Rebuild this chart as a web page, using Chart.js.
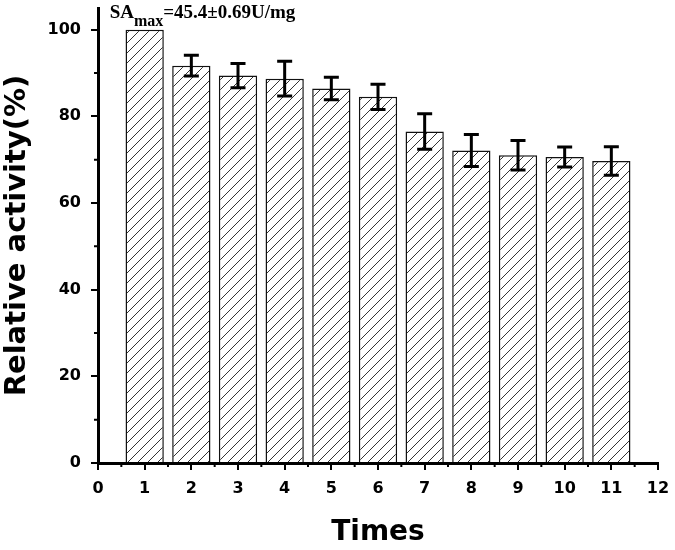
<!DOCTYPE html>
<html>
<head>
<meta charset="utf-8">
<script src="https://cdn.jsdelivr.net/npm/chart.js@4.4.1/dist/chart.umd.min.js"></script>
<style>
  html, body { margin: 0; padding: 0; background: #fff; }
  #wrap { width: 675px; height: 550px; }
</style>
</head>
<body>
<div id="wrap"><canvas id="activityChart" width="675" height="550"></canvas></div>
<script>
// data
const times = [1, 2, 3, 4, 5, 6, 7, 8, 9, 10, 11];
const activity = [100, 91.7, 89.4, 88.7, 86.4, 84.5, 76.5, 72.1, 71.0, 70.6, 69.7];
const errors = [0, 2.4, 2.8, 4.0, 2.6, 2.9, 4.1, 3.7, 3.4, 2.3, 3.3];
const xMinorTicks = [0.5, 1.5, 2.5, 3.5, 4.5, 5.5, 6.5, 7.5, 8.5, 9.5, 10.5, 11.5];
const yMinorTicks = [10, 30, 50, 70, 90];

const sansFont = '"DejaVu Sans", sans-serif';

// diagonal hatch fill for the bars
function makeHatch() {
  const c = document.createElement('canvas');
  c.width = 10; c.height = 10;
  const g = c.getContext('2d');
  g.fillStyle = '#fff';
  g.fillRect(0, 0, 10, 10);
  g.strokeStyle = '#333';
  g.lineWidth = 1;
  g.beginPath();
  g.moveTo(0, 10); g.lineTo(10, 0);
  g.moveTo(-5, 5); g.lineTo(5, -5);
  g.moveTo(5, 15); g.lineTo(15, 5);
  g.stroke();
  return g.createPattern(c, 'repeat');
}

// error bars, minor ticks and the SA note
const extras = {
  id: 'extras',
  afterDatasetsDraw(chart) {
    const ctx = chart.ctx;
    const y = chart.scales.y;
    const meta = chart.getDatasetMeta(0);
    ctx.save();
    ctx.strokeStyle = '#000';
    ctx.lineWidth = 3;
    meta.data.forEach((bar, i) => {
      if (!errors[i]) return;
      const top = y.getPixelForValue(activity[i] + errors[i]);
      const bot = y.getPixelForValue(activity[i] - errors[i]);
      ctx.beginPath();
      ctx.moveTo(bar.x, top); ctx.lineTo(bar.x, bot);
      ctx.moveTo(bar.x - 7.5, top); ctx.lineTo(bar.x + 7.5, top);
      ctx.moveTo(bar.x - 7.5, bot); ctx.lineTo(bar.x + 7.5, bot);
      ctx.stroke();
    });
    ctx.restore();
  },
  afterDraw(chart) {
    const ctx = chart.ctx;
    const x = chart.scales.x, y = chart.scales.y;
    const area = chart.chartArea;
    ctx.save();
    ctx.strokeStyle = '#000';
    ctx.lineWidth = 2;
    ctx.beginPath();
    xMinorTicks.forEach(v => {
      const px = x.getPixelForValue(v);
      ctx.moveTo(px, area.bottom); ctx.lineTo(px, area.bottom + 4);
    });
    yMinorTicks.forEach(v => {
      const py = y.getPixelForValue(v);
      ctx.moveTo(area.left, py); ctx.lineTo(area.left - 4, py);
    });
    ctx.stroke();

    // SA_max note
    const nx = x.getPixelForValue(0.25);
    const ny = area.top + 10;
    ctx.fillStyle = '#000';
    ctx.textBaseline = 'alphabetic';
    ctx.font = 'bold 19px "Liberation Serif", serif';
    ctx.fillText('SA', nx, ny);
    const w1 = ctx.measureText('SA').width;
    ctx.font = 'bold 16px "Liberation Serif", serif';
    ctx.fillText('max', nx + w1, ny + 8);
    const w2 = ctx.measureText('max').width;
    ctx.font = 'bold 19px "Liberation Serif", serif';
    ctx.fillText('=45.4\u00B10.69U/mg', nx + w1 + w2, ny);
    ctx.restore();
  }
};

const ctx = document.getElementById('activityChart').getContext('2d');
new Chart(ctx, {
  type: 'bar',
  data: {
    datasets: [{
      label: 'Relative activity',
      data: times.map((t, i) => ({ x: t, y: activity[i] })),
      backgroundColor: makeHatch(),
      borderColor: '#111',
      borderWidth: 1.5,
      barPercentage: 0.82,
      categoryPercentage: 1
    }]
  },
  options: {
    responsive: false,
    animation: false,
    layout: { padding: { left: 0, right: 17, top: 8, bottom: 0 } },
    plugins: {
      legend: { display: false },
      tooltip: { enabled: false }
    },
    scales: {
      x: {
        type: 'linear',
        min: 0,
        max: 12,
        offset: false,
        afterFit: s => { s.height = 87; s.paddingLeft = 0; s.paddingRight = 0; },
        ticks: {
          stepSize: 1,
          color: '#000',
          padding: 9,
          maxRotation: 0,
          font: { family: sansFont, size: 16, weight: 'bold' }
        },
        grid: {
          drawOnChartArea: false,
          offset: false,
          color: '#000',
          lineWidth: 2,
          tickLength: 7
        },
        border: { color: '#000', width: 3 },
        title: {
          display: true,
          text: 'Times',
          color: '#000',
          padding: 0,
          font: { family: sansFont, size: 28, weight: 'bold' }
        }
      },
      y: {
        min: 0,
        max: 105,
        afterFit: s => { s.width = 98; s.paddingTop = 0; s.paddingBottom = 0; },
        ticks: {
          stepSize: 20,
          includeBounds: false,
          color: '#000',
          padding: 10,
          font: { family: sansFont, size: 16, weight: 'bold' }
        },
        grid: {
          drawOnChartArea: false,
          color: '#000',
          lineWidth: 2,
          tickLength: 7
        },
        border: { color: '#000', width: 3 },
        title: {
          display: true,
          text: 'Relative activity(%)',
          color: '#000',
          padding: 0,
          font: { family: sansFont, size: 29, weight: 'bold' }
        }
      }
    }
  },
  plugins: [extras]
});
</script>
</body>
</html>
